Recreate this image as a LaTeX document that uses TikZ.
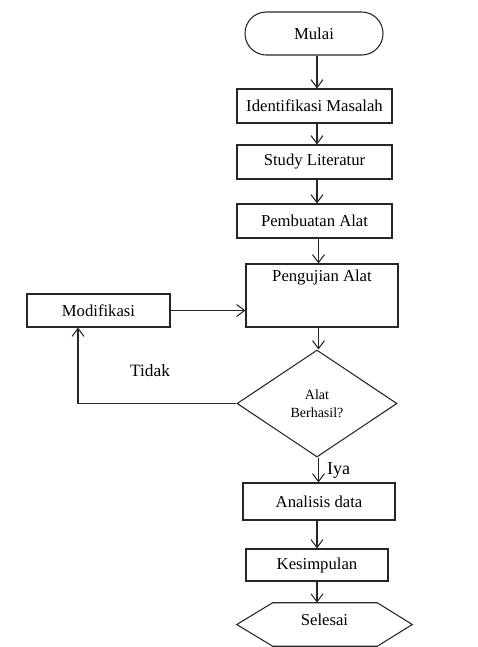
\documentclass[tikz,border=0pt]{standalone}
\usepackage{fontspec}
\setmainfont{Liberation Serif}
\usetikzlibrary{arrows.meta,shapes.geometric}
\begin{document}
\begin{tikzpicture}[x=0.75pt,y=-0.75pt,
  every node/.style={font=\fontsize{12.5}{15}\selectfont, text=black},
  ln/.style={draw=black!85, line width=0.8pt},
  box/.style={ln, rectangle, inner sep=0pt},
  arr/.style={ln, -{Straight Barb[length=6pt,width=9pt]}}
]
\useasboundingbox (0,0) rectangle (478,647);

\node[box, rounded corners=16pt, minimum width=103.5pt, minimum height=32.25pt] (mulai) at (314,33.5) {Mulai};
\node[box, minimum width=116.25pt, minimum height=25.5pt] (ident) at (314.5,106) {Identifikasi Masalah};
\node[box, minimum width=116.25pt, minimum height=25.5pt] (study) at (314.5,162) {Study Literatur};
\node[box, minimum width=116.25pt, minimum height=25.5pt] (buat) at (314.5,221) {Pembuatan Alat};
\node[box, minimum width=114pt, minimum height=47.25pt,
  label={[anchor=center, yshift=-10.5pt, font=\fontsize{12.5}{15}\selectfont]north:Pengujian Alat}] (uji) at (322,295.5) {};
\node[box, minimum width=107.25pt, minimum height=24.75pt] (modif) at (98.5,310.5) {Modifikasi};
\node[ln, diamond, inner sep=0pt, minimum width=120pt, minimum height=80.25pt,
  align=center, font=\fontsize{10.5}{13.5}\selectfont] (dia) at (317,403.5) {Alat\\Berhasil?};
\node[box, minimum width=114pt, minimum height=27.75pt] (anal) at (319,501.5) {Analisis data};
\node[box, minimum width=106.5pt, minimum height=24pt] (kes) at (317,565) {Kesimpulan};
\node[inner sep=0pt, minimum width=131.25pt, minimum height=32.25pt] (sel) at (324.5,624.5) {\raisebox{6.75pt}{Selesai}};
\draw[ln] (sel.west) -- ([xshift=27pt]sel.north west) -- ([xshift=-26.25pt]sel.north east)
  -- (sel.east) -- ([xshift=-26.25pt]sel.south east) -- ([xshift=27pt]sel.south west) -- cycle;

\node[font=\fontsize{13}{15}\selectfont] (tidak) at (150,371) {Tidak};
\node[font=\fontsize{13.5}{16}\selectfont] (iya) at (338.5,471) {Iya};

\coordinate (c1) at (317,0);
\coordinate (c2) at (318.5,0);
\coordinate (corner) at (78,403.5);

\draw[arr] (mulai.south -| c1) -- (ident.north -| c1);
\draw[arr] (ident.south -| c1) -- (study.north -| c1);
\draw[arr] (study.south -| c1) -- (buat.north -| c1);
\draw[arr] (buat.south -| c2) -- (uji.north -| c2);
\draw[arr] (uji.south -| c2) -- (dia.north -| c2);
\draw[arr] (dia.south -| c2) -- (anal.north -| c2);
\draw[arr] (anal.south -| c1) -- (kes.north -| c1);
\draw[arr] (kes.south -| c1) -- (sel.north -| c1);
\draw[arr] (modif.east) -- (modif.east -| uji.west);
\draw[arr] (dia.west) -- (corner) -- (corner |- modif.south);
\end{tikzpicture}
\end{document}
